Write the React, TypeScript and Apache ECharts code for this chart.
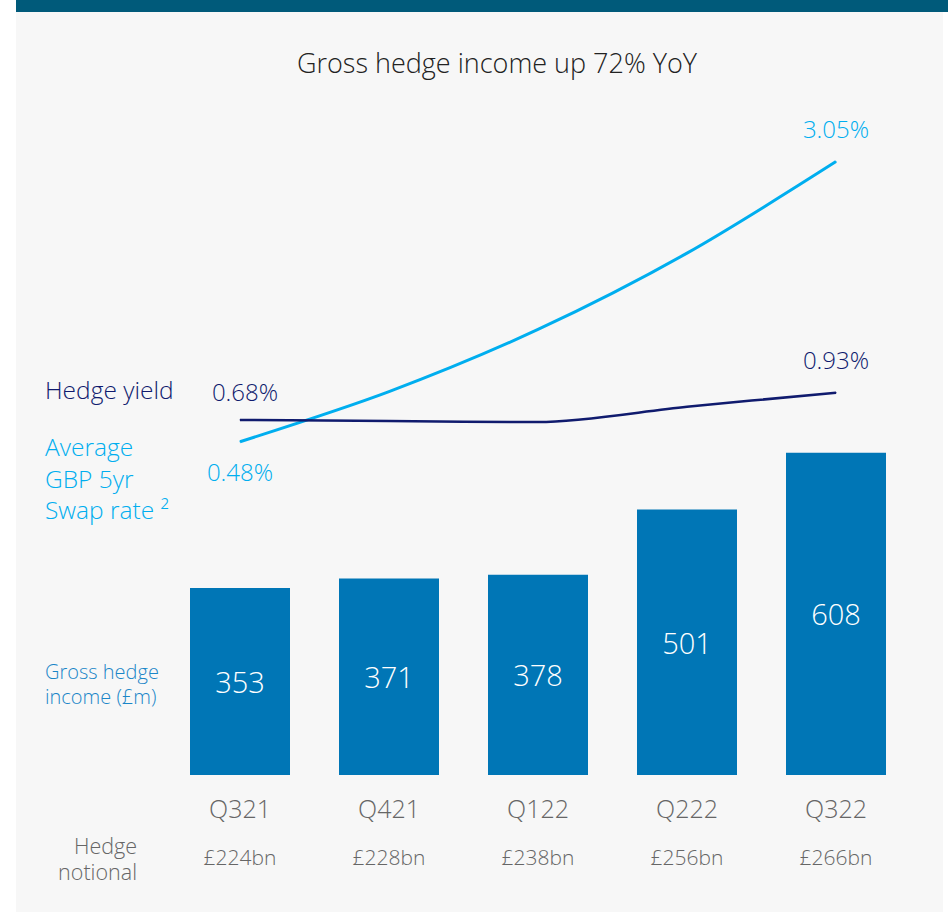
import React, { useEffect, useRef } from "react";
import * as echarts from "echarts";

const categories = ["Q321", "Q421", "Q122", "Q222", "Q322"];
const grossHedgeIncome = [353, 371, 378, 501, 608];
const swapRate = [0.48, 0.94, 1.51, 2.21, 3.05];
const hedgeYield = [0.68, 0.67, 0.66, 0.8, 0.93];
const hedgeNotional = ["£224bn", "£228bn", "£238bn", "£256bn", "£266bn"];

const FONT = "'Open Sans', Lato, sans-serif";
const W = 300;
const NAVY = "#101b6e";
const LIGHT = "#00aeef";
const BAR = "#0076b6";
const GREY = "#666666";

function withEndLabels(values: number[], first: any, last: any) {
  return values.map((v, i) => {
    if (i === 0) return { value: v, label: { show: true, ...first } };
    if (i === values.length - 1) return { value: v, label: { show: true, ...last } };
    return { value: v };
  });
}

export default function App() {
  const ref = useRef<HTMLDivElement>(null);
  useEffect(() => {
    if (!ref.current) return;
    const chart = echarts.init(ref.current, undefined, { renderer: "svg" });
    const labelBase = {
      formatter: (p: any) => p.value.toFixed(2) + "%",
      fontFamily: FONT,
      fontSize: 24,
      fontWeight: W,
    };
    chart.setOption({
      animation: false,
      graphic: [
        { type: "rect", z: -10, shape: { x: 16, y: 12, width: 927, height: 900 }, style: { fill: "#f7f7f7" } },
        { type: "rect", z: -10, shape: { x: 16, y: 0, width: 932, height: 12 }, style: { fill: "#005a7a" } },
        {
          type: "text", x: 497, y: 62,
          style: { text: "Gross hedge income up 72% YoY", align: "center", verticalAlign: "middle", fontFamily: FONT, fontSize: 27, fontWeight: W, fill: "#222" },
        },
        {
          type: "text", x: 45, y: 389,
          style: { text: "Hedge yield", align: "left", verticalAlign: "middle", fontFamily: FONT, fontSize: 24.5, fontWeight: W, fill: NAVY },
        },
        {
          type: "text", x: 45, y: 478,
          style: { text: "Average\nGBP 5yr\nSwap rate ²", align: "left", verticalAlign: "middle", lineHeight: 31.5, fontFamily: FONT, fontSize: 24.5, fontWeight: W, fill: LIGHT },
        },
        {
          type: "text", x: 45, y: 683.5,
          style: { text: "Gross hedge\nincome (£m)", align: "left", verticalAlign: "middle", lineHeight: 25, fontFamily: FONT, fontSize: 20, fontWeight: W, fill: "#1a86c8" },
        },
        {
          type: "text", x: 137, y: 845,
          style: { text: "Hedge", align: "right", verticalAlign: "middle", fontFamily: FONT, fontSize: 21.5, fontWeight: W, fill: GREY },
        },
        {
          type: "text", x: 137, y: 871.5,
          style: { text: "notional", align: "right", verticalAlign: "middle", fontFamily: FONT, fontSize: 21.5, fontWeight: W, fill: GREY },
        },
      ],
      grid: { left: 165.5, right: 37.5, top: 100, bottom: 137 },
      xAxis: [
        {
          type: "category", data: categories,
          axisLine: { show: false }, axisTick: { show: false },
          axisLabel: { color: GREY, fontFamily: FONT, fontSize: 25, fontWeight: W, margin: 20 },
        },
        {
          type: "category", data: hedgeNotional, position: "bottom",
          axisLine: { show: false }, axisTick: { show: false },
          axisLabel: { color: GREY, fontFamily: FONT, fontSize: 21, fontWeight: W, margin: 71 },
        },
      ],
      yAxis: [
        { type: "value", min: 0, max: 1274, show: false, splitLine: { show: false } },
        { type: "value", min: -2.578, max: 3.615, show: false, splitLine: { show: false } },
      ],
      series: [
        {
          type: "bar", data: grossHedgeIncome, barWidth: 100, xAxisIndex: 0, yAxisIndex: 0,
          itemStyle: { color: BAR },
          label: { show: true, position: "inside", color: "#fff", fontFamily: FONT, fontSize: 29, fontWeight: W },
        },
        {
          type: "line", name: "Average GBP 5yr Swap rate", xAxisIndex: 0, yAxisIndex: 1,
          data: withEndLabels(swapRate,
            { ...labelBase, position: "bottom", distance: 17, color: LIGHT },
            { ...labelBase, position: "top", distance: 21, color: LIGHT }),
          smooth: 0.3, symbol: "circle", symbolSize: 1, showSymbol: true,
          itemStyle: { color: LIGHT }, lineStyle: { color: LIGHT, width: 3 },
        },
        {
          type: "line", name: "Hedge yield", xAxisIndex: 0, yAxisIndex: 1,
          data: withEndLabels(hedgeYield,
            { ...labelBase, position: "top", distance: 16, offset: [5, 0], color: NAVY },
            { ...labelBase, position: "top", distance: 21, color: NAVY }),
          smooth: 0.3, symbol: "circle", symbolSize: 1, showSymbol: true,
          itemStyle: { color: NAVY }, lineStyle: { color: NAVY, width: 2.5 },
        },
      ],
    });
    return () => chart.dispose();
  }, []);
  return (
    <div style={{ position: "fixed", left: 0, top: 0, width: 948, height: 912, background: "#fff" }}>
      <div ref={ref} style={{ width: 948, height: 912 }} />
    </div>
  );
}
